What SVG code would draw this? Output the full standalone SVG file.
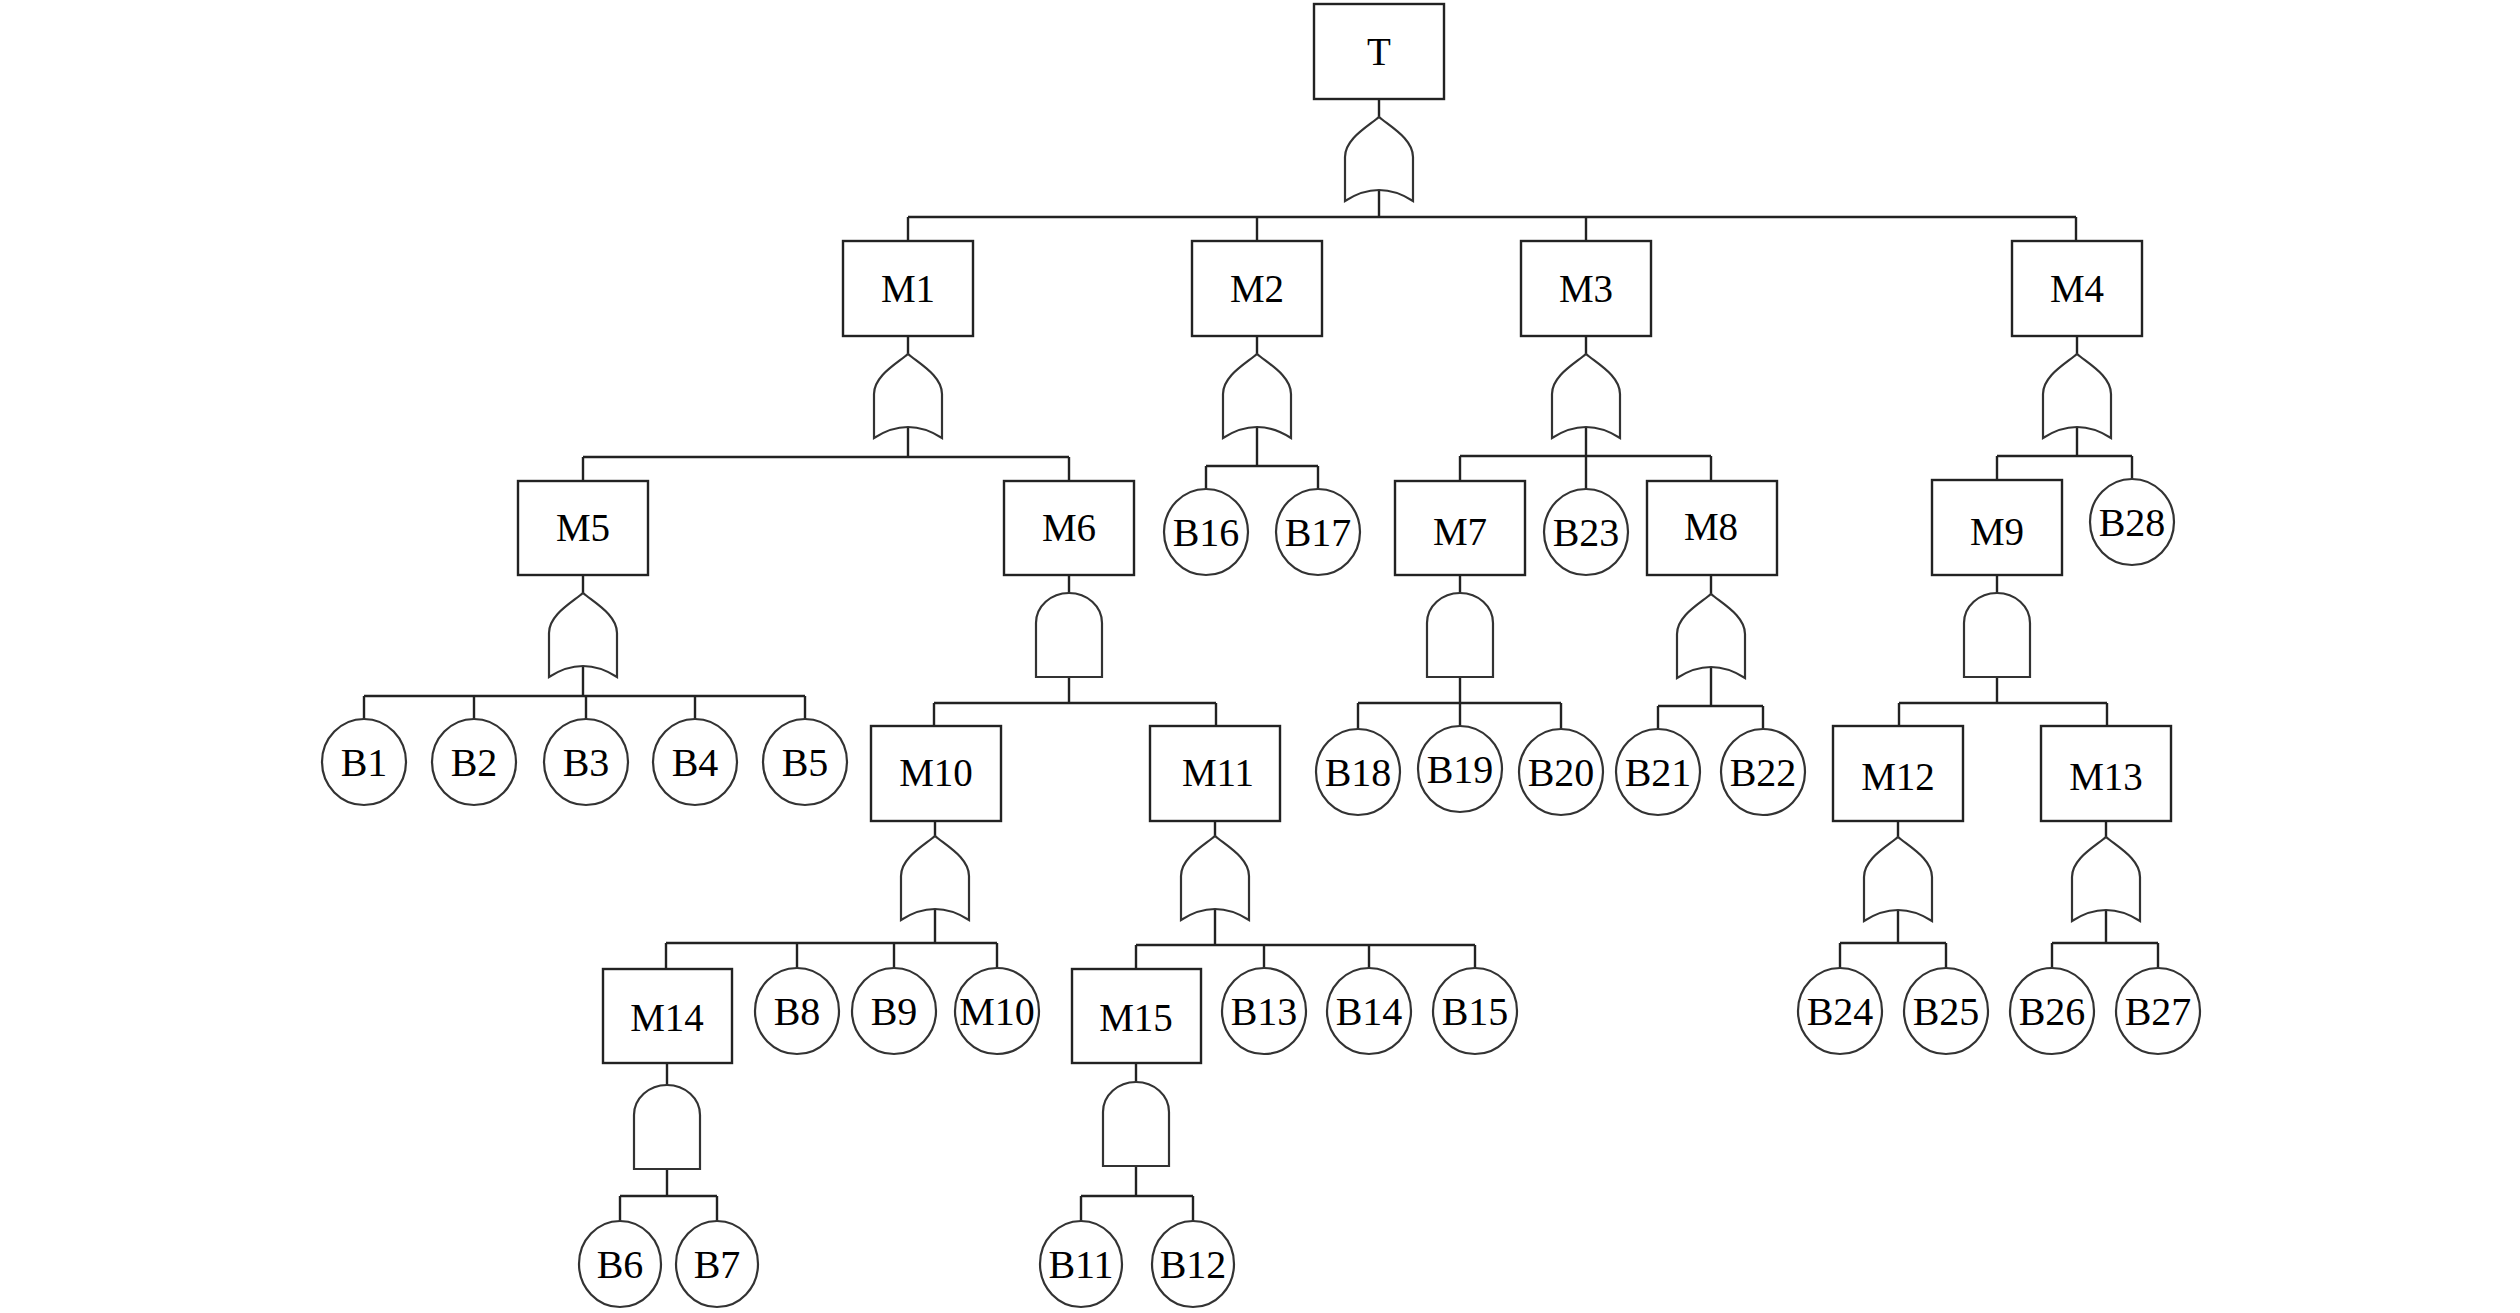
<svg xmlns="http://www.w3.org/2000/svg" xmlns:xlink="http://www.w3.org/1999/xlink" width="2520" height="1313" viewBox="0 0 2520 1313">
<style>
.box{fill:#fff;stroke:#222;stroke-width:2.4}
.ev{fill:#fff;stroke:#333;stroke-width:2.2}
.gate{fill:#fff;stroke:#333;stroke-width:2.2}
.ln{fill:none;stroke:#222;stroke-width:2.4}
text{font-family:"Liberation Serif","Times New Roman",serif;font-size:39px;fill:#000;text-anchor:middle}
.ev + text{font-size:40px}
</style>
<defs>
<path id="or" class="gate" d="M0,0 C12,10 34,22 34,40 L34,84 Q0,62 -34,84 L-34,40 C-34,22 -12,10 0,0 Z"/>
<path id="and" class="gate" d="M-33,84 L-33,30 A33,30 0 0 1 33,30 L33,84 Z"/>
</defs>
<rect width="2520" height="1313" fill="#fff"/>
<g id="connectors" class="ln">
<path d="M1379,99V117M1379,190V217M908,217H2076M908,217V241M1257,217V241M1586,217V241M2076,217V241"/>
<path d="M908,336V354M908,427V457M583,457H1069M583,457V481M1069,457V481"/>
<path d="M1257,336V354M1257,427V466M1206,466H1318M1206,466V489M1318,466V489"/>
<path d="M1586,336V354M1586,427V456M1460,456H1711M1460,456V481M1586,456V489M1711,456V481"/>
<path d="M2077,336V354M2077,427V456M1997,456H2132M1997,456V480M2132,456V479"/>
<path d="M583,575V593M583,666V696M364,696H805M364,696V719M474,696V719M586,696V719M695,696V719M805,696V719"/>
<path d="M1069,575V593M1069,677V703M934,703H1216M934,703V726M1216,703V726"/>
<path d="M1460,575V593M1460,677V703M1358,703H1561M1358,703V729M1460,703V726M1561,703V729"/>
<path d="M1711,575V594M1711,667V706M1658,706H1763M1658,706V729M1763,706V729"/>
<path d="M1997,575V593M1997,677V703M1899,703H2107M1899,703V726M2107,703V726"/>
<path d="M935,821V836M935,909V943M666,943H997M666,943V969M797,943V968M894,943V968M997,943V968"/>
<path d="M1215,821V836M1215,909V945M1136,945H1475M1136,945V969M1264,945V968M1369,945V968M1475,945V968"/>
<path d="M1898,821V837M1898,910V943M1840,943H1946M1840,943V968M1946,943V968"/>
<path d="M2106,821V837M2106,910V943M2052,943H2158M2052,943V968M2158,943V968"/>
<path d="M667,1063V1085M667,1169V1196M620,1196H717M620,1196V1221M717,1196V1221"/>
<path d="M1136,1063V1082M1136,1166V1196M1081,1196H1193M1081,1196V1221M1193,1196V1221"/>
</g>
<g id="T"><rect class="box" x="1314" y="4" width="130" height="95"/><text x="1379" y="65">T</text><use xlink:href="#or" x="1379" y="117"/></g>
<g id="M1"><rect class="box" x="843" y="241" width="130" height="95"/><text x="908" y="302">M1</text><use xlink:href="#or" x="908" y="354"/></g>
<g id="M2"><rect class="box" x="1192" y="241" width="130" height="95"/><text x="1257" y="302">M2</text><use xlink:href="#or" x="1257" y="354"/></g>
<g id="M3"><rect class="box" x="1521" y="241" width="130" height="95"/><text x="1586" y="302">M3</text><use xlink:href="#or" x="1586" y="354"/></g>
<g id="M4"><rect class="box" x="2012" y="241" width="130" height="95"/><text x="2077" y="302">M4</text><use xlink:href="#or" x="2077" y="354"/></g>
<g id="M5"><rect class="box" x="518" y="481" width="130" height="94"/><text x="583" y="541">M5</text><use xlink:href="#or" x="583" y="593"/></g>
<g id="M6"><rect class="box" x="1004" y="481" width="130" height="94"/><text x="1069" y="541">M6</text><use xlink:href="#and" x="1069" y="593"/></g>
<g id="M7"><rect class="box" x="1395" y="481" width="130" height="94"/><text x="1460" y="545">M7</text><use xlink:href="#and" x="1460" y="593"/></g>
<g id="M8"><rect class="box" x="1647" y="481" width="130" height="94"/><text x="1711" y="540">M8</text><use xlink:href="#or" x="1711" y="594"/></g>
<g id="M9"><rect class="box" x="1932" y="480" width="130" height="95"/><text x="1997" y="545">M9</text><use xlink:href="#and" x="1997" y="593"/></g>
<g id="M10"><rect class="box" x="871" y="726" width="130" height="95"/><text x="936" y="786">M10</text><use xlink:href="#or" x="935" y="836"/></g>
<g id="M11"><rect class="box" x="1150" y="726" width="130" height="95"/><text x="1218" y="786">M11</text><use xlink:href="#or" x="1215" y="836"/></g>
<g id="M12"><rect class="box" x="1833" y="726" width="130" height="95"/><text x="1898" y="790">M12</text><use xlink:href="#or" x="1898" y="837"/></g>
<g id="M13"><rect class="box" x="2041" y="726" width="130" height="95"/><text x="2106" y="790">M13</text><use xlink:href="#or" x="2106" y="837"/></g>
<g id="M14"><rect class="box" x="603" y="969" width="129" height="94"/><text x="667" y="1031">M14</text><use xlink:href="#and" x="667" y="1085"/></g>
<g id="M15"><rect class="box" x="1072" y="969" width="129" height="94"/><text x="1136" y="1031">M15</text><use xlink:href="#and" x="1136" y="1082"/></g>
<g id="B1"><ellipse class="ev" cx="364" cy="762" rx="42" ry="43"/><text x="364" y="776">B1</text></g>
<g id="B2"><ellipse class="ev" cx="474" cy="762" rx="42" ry="43"/><text x="474" y="776">B2</text></g>
<g id="B3"><ellipse class="ev" cx="586" cy="762" rx="42" ry="43"/><text x="586" y="776">B3</text></g>
<g id="B4"><ellipse class="ev" cx="695" cy="762" rx="42" ry="43"/><text x="695" y="776">B4</text></g>
<g id="B5"><ellipse class="ev" cx="805" cy="762" rx="42" ry="43"/><text x="805" y="776">B5</text></g>
<g id="B16"><ellipse class="ev" cx="1206" cy="532" rx="42" ry="43"/><text x="1206" y="546">B16</text></g>
<g id="B17"><ellipse class="ev" cx="1318" cy="532" rx="42" ry="43"/><text x="1318" y="546">B17</text></g>
<g id="B23"><ellipse class="ev" cx="1586" cy="532" rx="42" ry="43"/><text x="1586" y="546">B23</text></g>
<g id="B28"><ellipse class="ev" cx="2132" cy="522" rx="42" ry="43"/><text x="2132" y="536">B28</text></g>
<g id="B18"><ellipse class="ev" cx="1358" cy="772" rx="42" ry="43"/><text x="1358" y="786">B18</text></g>
<g id="B19"><ellipse class="ev" cx="1460" cy="769" rx="42" ry="43"/><text x="1460" y="783">B19</text></g>
<g id="B20"><ellipse class="ev" cx="1561" cy="772" rx="42" ry="43"/><text x="1561" y="786">B20</text></g>
<g id="B21"><ellipse class="ev" cx="1658" cy="772" rx="42" ry="43"/><text x="1658" y="786">B21</text></g>
<g id="B22"><ellipse class="ev" cx="1763" cy="772" rx="42" ry="43"/><text x="1763" y="786">B22</text></g>
<g id="B8"><ellipse class="ev" cx="797" cy="1011" rx="42" ry="43"/><text x="797" y="1025">B8</text></g>
<g id="B9"><ellipse class="ev" cx="894" cy="1011" rx="42" ry="43"/><text x="894" y="1025">B9</text></g>
<g id="M10c"><ellipse class="ev" cx="997" cy="1011" rx="42" ry="43"/><text x="997" y="1025">M10</text></g>
<g id="B13"><ellipse class="ev" cx="1264" cy="1011" rx="42" ry="43"/><text x="1264" y="1025">B13</text></g>
<g id="B14"><ellipse class="ev" cx="1369" cy="1011" rx="42" ry="43"/><text x="1369" y="1025">B14</text></g>
<g id="B15"><ellipse class="ev" cx="1475" cy="1011" rx="42" ry="43"/><text x="1475" y="1025">B15</text></g>
<g id="B24"><ellipse class="ev" cx="1840" cy="1011" rx="42" ry="43"/><text x="1840" y="1025">B24</text></g>
<g id="B25"><ellipse class="ev" cx="1946" cy="1011" rx="42" ry="43"/><text x="1946" y="1025">B25</text></g>
<g id="B26"><ellipse class="ev" cx="2052" cy="1011" rx="42" ry="43"/><text x="2052" y="1025">B26</text></g>
<g id="B27"><ellipse class="ev" cx="2158" cy="1011" rx="42" ry="43"/><text x="2158" y="1025">B27</text></g>
<g id="B6"><ellipse class="ev" cx="620" cy="1264" rx="41" ry="43"/><text x="620" y="1278">B6</text></g>
<g id="B7"><ellipse class="ev" cx="717" cy="1264" rx="41" ry="43"/><text x="717" y="1278">B7</text></g>
<g id="B11"><ellipse class="ev" cx="1081" cy="1264" rx="41" ry="43"/><text x="1081" y="1278">B11</text></g>
<g id="B12"><ellipse class="ev" cx="1193" cy="1264" rx="41" ry="43"/><text x="1193" y="1278">B12</text></g>
</svg>
